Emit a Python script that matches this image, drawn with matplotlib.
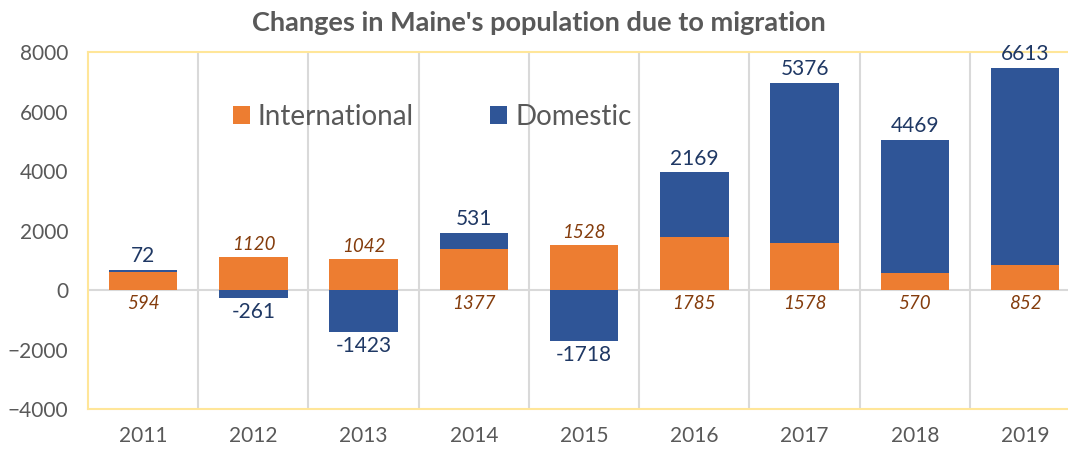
import matplotlib.pyplot as plt
import numpy as np

years = ['2011', '2012', '2013', '2014', '2015', '2016', '2017', '2018', '2019']
international = [594, 1120, 1042, 1377, 1528, 1785, 1578, 570, 852]
domestic = [72, -261, -1423, 531, -1718, 2169, 5376, 4469, 6613]

orange = '#ED7D31'
blue = '#2F5597'
gray_txt = '#595959'

plt.rcParams['font.family'] = ['Lato', 'DejaVu Sans']

fig = plt.figure(figsize=(10.68, 4.51), dpi=100)
ax = fig.add_axes([0.0824, 0.0931, 0.929, 0.7916])

x = np.arange(len(years))
intl = np.array(international)
dom = np.array(domestic)
dom_bottom = np.where(dom >= 0, intl, 0)

ax.bar(x, intl, width=0.62, color=orange, zorder=3)
ax.bar(x, dom, width=0.62, bottom=dom_bottom, color=blue, zorder=3)

# data labels
for i in range(len(years)):
    if dom[i] >= 0:
        top = intl[i] + dom[i]
        ax.text(x[i], top + 130, str(dom[i]), ha='center', va='bottom',
                fontsize=15, color='#1F3864', zorder=4)
        ax.text(x[i], -180, str(intl[i]), ha='center', va='top',
                fontsize=13.5, style='italic', color='#843C0C', zorder=4)
    else:
        ax.text(x[i], dom[i] - 130, str(dom[i]), ha='center', va='top',
                fontsize=15, color='#1F3864', zorder=4)
        ax.text(x[i], intl[i] + 130, str(intl[i]), ha='center', va='bottom',
                fontsize=13.5, style='italic', color='#843C0C', zorder=4)

ax.set_xlim(-0.5, len(years) - 0.5)
ax.set_ylim(-4000, 8000)
ax.set_yticks(range(-4000, 8001, 2000))
ax.set_xticks(x)
ax.set_xticklabels(years)
ax.tick_params(axis='both', length=0, labelsize=15, colors=gray_txt)
ax.tick_params(axis='x', pad=12)
ax.tick_params(axis='y', pad=14)

# vertical separators and zero line
for b in np.arange(0.5, len(years) - 0.5, 1):
    ax.axvline(b, color='#D9D9D9', lw=1.5, zorder=1)
ax.axhline(0, color='#D9D9D9', lw=1.5, zorder=2)

for s in ax.spines.values():
    s.set_color('#FFE699')
    s.set_linewidth(1.5)

# legend
ax.bar([0], [0], color=orange, label='International')
ax.bar([0], [0], color=blue, label='Domestic')
leg = ax.legend(loc='center left', bbox_to_anchor=(0.146, 0.818), ncol=2,
                frameon=False, fontsize=20, handlelength=0.6, handleheight=0.6,
                handletextpad=0.3, columnspacing=2.75, labelcolor=gray_txt,
                borderpad=0, borderaxespad=0)

fig.suptitle("Changes in Maine's population due to migration", x=0.505, y=0.975,
             fontsize=19.5, fontweight='bold', color=gray_txt)

fig.savefig('out.png', dpi=100)
